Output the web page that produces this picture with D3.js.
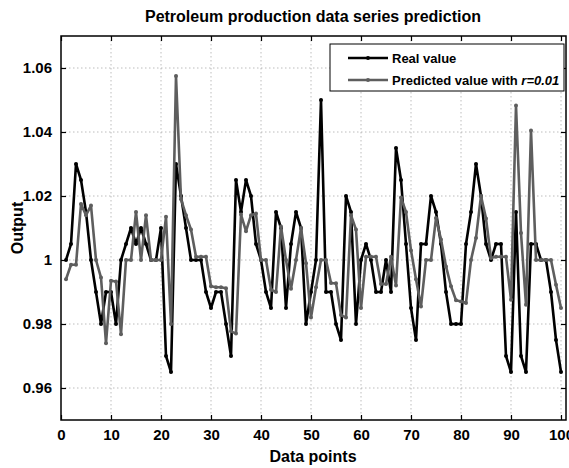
<!DOCTYPE html>
<html><head><meta charset="utf-8">
<script src="https://cdn.jsdelivr.net/npm/d3@7/dist/d3.min.js"></script>
<style>
html,body{margin:0;padding:0;background:#fff;}
svg text{font-family:"Liberation Sans",Arial,sans-serif;font-weight:bold;fill:#000;}
</style></head>
<body>
<svg id="c" width="569" height="468"></svg>
<script>
const realValues = [1.000,1.005,1.030,1.025,1.015,1.000,0.990,0.980,0.990,0.990,
0.980,1.000,1.005,1.010,1.005,1.010,1.005,1.000,1.000,1.010,
0.970,0.965,1.030,1.020,1.010,1.000,1.000,1.000,0.990,0.985,
0.990,0.990,0.980,0.970,1.025,1.015,1.025,1.020,1.005,1.000,
0.990,0.985,1.015,1.010,0.985,1.005,1.015,1.010,0.980,0.990,
1.000,1.050,0.990,0.990,0.980,0.975,1.020,1.015,0.980,1.000,
1.005,1.000,0.990,0.990,1.000,0.990,1.035,1.025,1.005,0.985,
0.975,1.005,1.005,1.020,1.015,1.005,0.990,0.980,0.980,0.980,
1.005,1.015,1.030,1.020,1.005,1.000,1.005,1.005,0.970,0.965,
1.015,0.970,0.965,1.005,1.005,1.000,1.000,0.990,0.975,0.965];
const predictedValues = [0.994,0.9985,0.9985,1.0175,1.014,1.017,1.000,0.9945,0.974,0.9935,
0.9933,0.9768,1.000,1.000,1.015,1.000,1.014,1.000,1.000,1.000,
1.0135,0.980,1.0575,1.019,1.014,1.0095,1.001,1.001,1.001,0.9918,
0.9915,0.9915,0.9912,0.9777,0.977,1.0142,1.009,1.014,1.0145,1.000,
1.000,0.9907,0.990,1.0105,1.000,0.991,1.000,1.010,0.999,0.982,
0.9915,1.000,1.000,0.9928,0.9927,0.9828,0.982,1.014,1.0095,0.985,
1.001,1.001,1.001,0.9925,0.9925,1.001,0.992,1.0195,1.015,1.003,
0.994,0.9855,1.000,1.000,1.0131,1.0064,0.998,0.9918,0.9874,0.987,
0.9866,1.000,1.0069,1.020,1.013,1.0006,1.001,1.001,1.001,0.9876,
1.0483,1.0084,0.986,1.0405,1.000,1.000,1.000,1.000,0.9923,0.985];
const xTicks = [0,10,20,30,40,50,60,70,80,90,100];
const yTicks = [0.96,0.98,1.00,1.02,1.04,1.06];
const yTickLabels = ["0.96","0.98","1","1.02","1.04","1.06"];
const seriesNames = ["Real value","Predicted value with "];

const svg = d3.select("#c");
const L=61, R=566, T=36, B=420;
const x = d3.scaleLinear().domain([0,101]).range([L,R]);
const y = d3.scaleLinear().domain([0.95,1.07]).range([B,T]);

// grid
const g = svg.append("g");
g.selectAll("line.gx").data(xTicks.slice(1)).enter().append("line")
 .attr("x1",d=>x(d)).attr("x2",d=>x(d)).attr("y1",T).attr("y2",B)
 .attr("stroke","#a0a0a0").attr("stroke-width",0.7).attr("stroke-dasharray","1.5,2.5");
g.selectAll("line.gy").data(yTicks).enter().append("line")
 .attr("x1",L).attr("x2",R).attr("y1",d=>y(d)).attr("y2",d=>y(d))
 .attr("stroke","#a0a0a0").attr("stroke-width",0.7).attr("stroke-dasharray","1.5,2.5");

// axes
const xAxisB = d3.axisBottom(x).tickValues(xTicks).tickSizeInner(-5).tickSizeOuter(0).tickPadding(9);
const xAxisT = d3.axisTop(x).tickValues(xTicks).tickSizeInner(-5).tickSizeOuter(0).tickFormat("");
const yAxisL = d3.axisLeft(y).tickValues(yTicks).tickSizeInner(-5).tickSizeOuter(0).tickPadding(9)
 .tickFormat((d,i)=>yTickLabels[i]);
const yAxisR = d3.axisRight(y).tickValues(yTicks).tickSizeInner(-5).tickSizeOuter(0).tickFormat("");
function style(sel){ sel.selectAll("path").remove(); sel.selectAll("line").attr("stroke","#000").attr("stroke-width",1.2);
 sel.selectAll("text").style("font-size","15px").style("font-family","'Liberation Sans',Arial,sans-serif").style("font-weight","bold").attr("fill","#000"); }
svg.append("g").attr("transform",`translate(0,${B})`).call(xAxisB).call(style);
svg.append("g").attr("transform",`translate(0,${T})`).call(xAxisT).call(style);
svg.append("g").attr("transform",`translate(${L},0)`).call(yAxisL).call(style);
svg.append("g").attr("transform",`translate(${R},0)`).call(yAxisR).call(style);
svg.append("rect").attr("x",L).attr("y",T).attr("width",R-L).attr("height",B-T)
 .attr("fill","none").attr("stroke","#000").attr("stroke-width",1.5);

// lines
const line = d3.line().x((d,i)=>x(i+1)).y(d=>y(d));
const series = [{v:realValues,c:"#000000"},{v:predictedValues,c:"#5e5e5e"}];
series.forEach(s=>{
  svg.append("path").datum(s.v).attr("d",line).attr("fill","none")
   .attr("stroke",s.c).attr("stroke-width",2.6).attr("stroke-linejoin","round");
  svg.append("g").selectAll("circle").data(s.v).enter().append("circle")
   .attr("cx",(d,i)=>x(i+1)).attr("cy",d=>y(d)).attr("r",2).attr("fill",s.c);
});

// title & labels
svg.append("text").attr("x",313).attr("y",22).attr("text-anchor","middle").style("font-size","16px")
 .text("Petroleum production data series prediction");
svg.append("text").attr("x",313).attr("y",462).attr("text-anchor","middle").style("font-size","16px").text("Data points");
svg.append("text").attr("transform","translate(23,228) rotate(-90)").attr("text-anchor","middle").style("font-size","16px").text("Output");

// legend
const lg = svg.append("g");
lg.append("rect").attr("x",330).attr("y",44).attr("width",234).attr("height",47)
 .attr("fill","#fff").attr("stroke","#000").attr("stroke-width",1);
series.forEach((s,i)=>{
  const yy = 58 + i*22;
  lg.append("line").attr("x1",348).attr("x2",388).attr("y1",yy).attr("y2",yy).attr("stroke",s.c).attr("stroke-width",2.6);
  lg.append("circle").attr("cx",368).attr("cy",yy).attr("r",2).attr("fill",s.c);
  const t = lg.append("text").attr("x",392).attr("y",yy+5).style("font-size","13px").text(seriesNames[i]);
  if(i===1){ t.append("tspan").style("font-style","italic").text("r=0.01"); }
});
</script>
</body></html>
